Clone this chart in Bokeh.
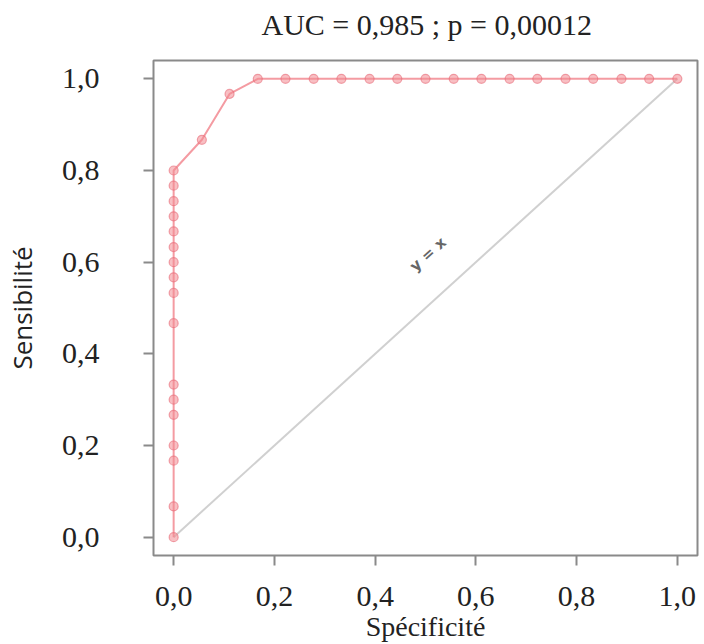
import math
from bokeh.plotting import figure
from bokeh.models import Range1d, FixedTicker, CustomJSTickFormatter, Title
from bokeh.core.properties import value
from bokeh.embed import file_html
from bokeh.resources import INLINE

# ROC data (x = Spécificité axis value, y = Sensibilité)
roc_x = [0.0, 0.0, 0.0, 0.0, 0.0, 0.0, 0.0, 0.0, 0.0, 0.0, 0.0, 0.0, 0.0, 0.0, 0.0, 0.0, 0.0,
         0.056, 0.111, 0.167, 0.222, 0.278, 0.333, 0.389, 0.444, 0.5, 0.556, 0.611,
         0.667, 0.722, 0.778, 0.833, 0.889, 0.944, 1.0]
roc_y = [0.0, 0.067, 0.167, 0.2, 0.267, 0.3, 0.333, 0.467, 0.533, 0.567, 0.6, 0.633,
         0.667, 0.7, 0.733, 0.767, 0.8,
         0.867, 0.967, 1.0, 1.0, 1.0, 1.0, 1.0, 1.0, 1.0, 1.0, 1.0,
         1.0, 1.0, 1.0, 1.0, 1.0, 1.0, 1.0]
diag_x = [0.0, 1.0]
diag_y = [0.0, 1.0]
ticks = [0.0, 0.2, 0.4, 0.6, 0.8, 1.0]
title_text = "AUC = 0,985 ; p = 0,00012"
x_label = "Spécificité"
y_label = "Sensibilité"
diag_label = "y = x"

p = figure(width=704, height=644, output_backend="svg", toolbar_location=None,
           x_range=Range1d(-0.04, 1.04), y_range=Range1d(-0.04, 1.04),
           min_border_left=148, min_border_right=7, min_border_top=60, min_border_bottom=89)

p.background_fill_color = "white"
p.border_fill_color = "white"
p.outline_line_color = "#8a8a8a"
p.outline_line_width = 2
p.xgrid.visible = False
p.ygrid.visible = False

# spacer panel between frame and title, then the title itself
p.add_layout(Title(text=" ", text_font_size="1px", standoff=17), "above")
p.add_layout(Title(text=title_text, align="left", offset=108, standoff=0,
                   text_font="Liberation Serif", text_font_size="30px",
                   text_font_style="normal", text_color="#222222"), "above")

fmt = CustomJSTickFormatter(code="return tick.toFixed(1).replace('.', ',')")
for ax in (p.xaxis[0], p.yaxis[0]):
    ax.ticker = FixedTicker(ticks=ticks)
    ax.formatter = fmt
    ax.axis_line_color = None
    ax.major_tick_line_color = "#8a8a8a"
    ax.major_tick_line_width = 2
    ax.major_tick_in = 0
    ax.major_tick_out = 10
    ax.minor_tick_line_color = None
    ax.major_label_text_font = "Liberation Serif"
    ax.major_label_text_font_size = "30px"
    ax.major_label_text_color = "#222222"

p.xaxis.major_label_standoff = 21
p.xaxis.axis_label = x_label
p.xaxis.axis_label_text_font = "Liberation Serif"
p.xaxis.axis_label_text_font_size = "28px"
p.xaxis.axis_label_text_font_style = "normal"
p.xaxis.axis_label_text_color = "#222222"
p.xaxis.axis_label_standoff = 2

p.yaxis.major_label_standoff = 44
p.yaxis.major_label_orientation = "horizontal"
p.yaxis.axis_label = y_label
p.yaxis.axis_label_text_font = "Open Sans"
p.yaxis.axis_label_text_font_size = "26px"
p.yaxis.axis_label_text_font_style = "normal"
p.yaxis.axis_label_text_color = "#222222"
p.yaxis.axis_label_standoff = 19

# diagonal reference line
p.line(diag_x, diag_y, line_color="#d0d0d0", line_width=2)
p.text(x=[0.505], y=[0.617], text=[diag_label],
       angle=math.radians(42), text_align="center", text_baseline="middle",
       text_font=value("DejaVu Sans"), text_font_size="15px", text_font_style="bold",
       text_color="#666666")

# ROC curve
p.line(roc_x, roc_y, line_color="#f28a92", line_width=2, line_alpha=0.85)
p.scatter(roc_x, roc_y, size=9, fill_color="#f28a92", fill_alpha=0.55,
          line_color="#e86a78", line_alpha=0.6, line_width=1.2)

open("out.html", "w").write(file_html(p, INLINE))
